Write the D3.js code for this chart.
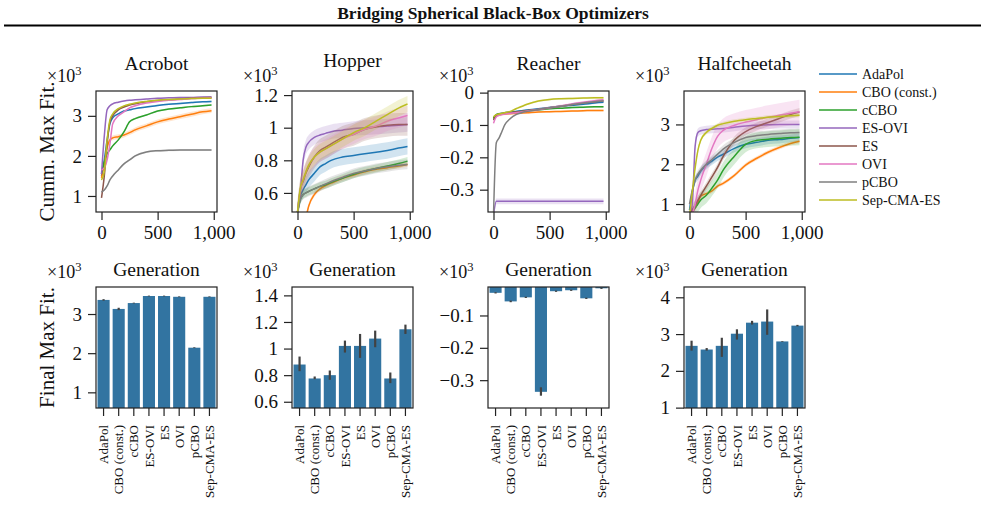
<!DOCTYPE html>
<html>
<head>
<meta charset="utf-8">
<script src="https://cdn.jsdelivr.net/npm/d3@7"></script>
<style>
  body { margin: 0; background: #fff; }
  text { font-family: "Liberation Serif", "DejaVu Serif", serif; fill: #111; }
</style>
</head>
<body>
<svg id="fig" width="985" height="524"></svg>
<script>
// ---- data -------------------------------------------------------------
const figTitle = "Bridging Spherical Black-Box Optimizers";
const envNames = ["Acrobot", "Hopper", "Reacher", "Halfcheetah"];
const methods = ["AdaPol", "CBO (const.)", "cCBO", "ES-OVI", "ES", "OVI", "pCBO", "Sep-CMA-ES"];
const colors = ["#1f77b4", "#ff7f0e", "#2ca02c", "#9467bd", "#8c564b", "#e377c2", "#7f7f7f", "#bcbd22"];
const gens = [0, 25, 50, 75, 100, 150, 200, 250, 300, 400, 500, 600, 700, 800, 900, 980];
const genTicks = [0, 500, 1000];

// cumulative max fitness (x10^3), one row per method
const acrobotMean = {
  "AdaPol":       [1.5, 1.9, 2.4, 2.8, 2.95, 3.05, 3.12, 3.15, 3.18, 3.22, 3.26, 3.29, 3.31, 3.33, 3.35, 3.36],
  "CBO (const.)": [1.45, 1.8, 2.2, 2.4, 2.45, 2.48, 2.52, 2.58, 2.65, 2.75, 2.85, 2.92, 2.98, 3.04, 3.1, 3.13],
  "cCBO":         [1.55, 1.85, 2.05, 2.15, 2.25, 2.4, 2.6, 2.85, 2.93, 3.02, 3.12, 3.17, 3.2, 3.23, 3.25, 3.27],
  "ES-OVI":       [1.55, 2.5, 3.15, 3.25, 3.3, 3.34, 3.37, 3.39, 3.4, 3.42, 3.44, 3.45, 3.46, 3.46, 3.47, 3.47],
  "ES":           [0.95, 1.5, 2.3, 2.85, 3.0, 3.15, 3.22, 3.27, 3.3, 3.35, 3.38, 3.4, 3.42, 3.44, 3.45, 3.46],
  "OVI":          [1.65, 1.7, 1.9, 2.3, 2.8, 3.0, 3.1, 3.2, 3.25, 3.32, 3.36, 3.39, 3.41, 3.43, 3.44, 3.45],
  "pCBO":         [1.1, 1.15, 1.25, 1.4, 1.5, 1.65, 1.8, 1.9, 2.0, 2.1, 2.13, 2.14, 2.15, 2.15, 2.15, 2.15],
  "Sep-CMA-ES":   [1.4, 1.6, 2.4, 2.9, 3.05, 3.18, 3.25, 3.29, 3.32, 3.36, 3.39, 3.41, 3.42, 3.43, 3.44, 3.44]
};
const hopperMean = {
  "AdaPol":       [0.48, 0.58, 0.62, 0.65, 0.68, 0.72, 0.76, 0.78, 0.8, 0.82, 0.83, 0.84, 0.85, 0.86, 0.875, 0.885],
  "CBO (const.)": [0.3, 0.35, 0.4, 0.45, 0.52, 0.59, 0.625, 0.645, 0.66, 0.69, 0.71, 0.73, 0.745, 0.755, 0.765, 0.775],
  "cCBO":         [0.48, 0.56, 0.59, 0.6, 0.61, 0.625, 0.64, 0.65, 0.665, 0.69, 0.715, 0.735, 0.75, 0.765, 0.78, 0.795],
  "ES-OVI":       [0.48, 0.6, 0.8, 0.88, 0.91, 0.94, 0.955, 0.965, 0.975, 0.985, 0.995, 1.0, 1.005, 1.01, 1.015, 1.02],
  "ES":           [0.48, 0.62, 0.67, 0.72, 0.76, 0.82, 0.86, 0.88, 0.9, 0.94, 0.96, 0.99, 1.005, 1.015, 1.02, 1.02],
  "OVI":          [0.48, 0.62, 0.68, 0.73, 0.77, 0.82, 0.85, 0.87, 0.89, 0.93, 0.96, 0.99, 1.01, 1.04, 1.06, 1.075],
  "pCBO":         [0.48, 0.56, 0.59, 0.6, 0.61, 0.625, 0.64, 0.655, 0.67, 0.695, 0.72, 0.735, 0.75, 0.76, 0.77, 0.775],
  "Sep-CMA-ES":   [0.48, 0.63, 0.68, 0.73, 0.77, 0.82, 0.85, 0.87, 0.89, 0.93, 0.97, 1.0, 1.04, 1.08, 1.12, 1.145]
};
const reacherMean = {
  "AdaPol":       [-0.078, -0.068, -0.065, -0.064, -0.062, -0.06, -0.058, -0.056, -0.054, -0.05, -0.046, -0.042, -0.039, -0.036, -0.032, -0.03],
  "CBO (const.)": [-0.08, -0.07, -0.068, -0.067, -0.066, -0.065, -0.064, -0.063, -0.062, -0.06, -0.059, -0.058, -0.057, -0.056, -0.055, -0.055],
  "cCBO":         [-0.08, -0.069, -0.066, -0.065, -0.064, -0.062, -0.06, -0.058, -0.056, -0.053, -0.05, -0.048, -0.046, -0.045, -0.044, -0.044],
  "ES-OVI":       [-0.38, -0.336, -0.336, -0.336, -0.336, -0.336, -0.336, -0.336, -0.336, -0.336, -0.336, -0.336, -0.336, -0.336, -0.336, -0.336],
  "ES":           [-0.085, -0.072, -0.068, -0.066, -0.064, -0.062, -0.06, -0.058, -0.056, -0.052, -0.047, -0.042, -0.037, -0.032, -0.028, -0.025],
  "OVI":          [-0.095, -0.075, -0.07, -0.068, -0.066, -0.064, -0.062, -0.06, -0.057, -0.052, -0.047, -0.041, -0.035, -0.03, -0.025, -0.022],
  "pCBO":         [-0.38, -0.155, -0.14, -0.12, -0.1, -0.08, -0.068, -0.062, -0.058, -0.052, -0.047, -0.042, -0.037, -0.032, -0.028, -0.026],
  "Sep-CMA-ES":   [-0.075, -0.068, -0.066, -0.064, -0.062, -0.058, -0.05, -0.043, -0.036, -0.026, -0.021, -0.019, -0.018, -0.017, -0.016, -0.016]
};
const halfcheetahMean = {
  "AdaPol":       [0.85, 1.3, 1.6, 1.7, 1.82, 1.97, 2.08, 2.18, 2.25, 2.4, 2.5, 2.55, 2.6, 2.62, 2.65, 2.67],
  "CBO (const.)": [0.7, 0.8, 0.9, 1.05, 1.2, 1.26, 1.33, 1.45, 1.52, 1.72, 1.98, 2.15, 2.3, 2.42, 2.52, 2.58],
  "cCBO":         [0.7, 0.8, 0.9, 1.0, 1.1, 1.22, 1.4, 1.6, 1.85, 2.2, 2.5, 2.6, 2.63, 2.65, 2.67, 2.68],
  "ES-OVI":       [0.7, 1.0, 2.45, 2.8, 2.84, 2.87, 2.88, 2.89, 2.9, 2.93, 2.96, 2.98, 2.99, 3.0, 3.0, 3.0],
  "ES":           [0.7, 0.85, 0.97, 1.1, 1.22, 1.45, 1.68, 1.92, 2.2, 2.6, 2.82, 2.95, 3.05, 3.15, 3.25, 3.31],
  "OVI":          [0.6, 0.75, 1.0, 1.35, 1.6, 2.0, 2.4, 2.7, 2.85, 2.98, 3.06, 3.12, 3.18, 3.23, 3.28, 3.32],
  "pCBO":         [1.0, 1.35, 1.6, 1.75, 1.85, 2.0, 2.12, 2.25, 2.38, 2.55, 2.67, 2.72, 2.75, 2.77, 2.79, 2.8],
  "Sep-CMA-ES":   [0.7, 1.3, 1.9, 2.35, 2.6, 2.8, 2.9, 2.98, 3.02, 3.08, 3.12, 3.15, 3.18, 3.2, 3.22, 3.23]
};

// half-width of the shaded band (x10^3)
const acrobotBand = [0.02, 0.06, 0.02, 0.015, 0.02, 0.02, 0.025, 0.015];
const hopperBand = [0.05, 0.015, 0.025, 0.045, 0.07, 0.06, 0.03, 0.05];
const reacherBand = [0.003, 0.003, 0.003, 0.009, 0.003, 0.004, 0.003, 0.003];
const halfcheetahBand = [0.1, 0.05, 0.2, 0.1, 0.1, 0.3, 0.1, 0.05];

// final max fitness (x10^3) and error-bar ranges
const acrobotFinal = [3.36, 3.13, 3.28, 3.46, 3.46, 3.44, 2.14, 3.44];
const acrobotErr = [[3.34, 3.38], [3.1, 3.16], [3.27, 3.29], [3.45, 3.47], [3.45, 3.47], [3.43, 3.45], [2.13, 2.15], [3.43, 3.45]];
const hopperFinal = [0.88, 0.775, 0.8, 1.02, 1.02, 1.075, 0.775, 1.145];
const hopperErr = [[0.83, 0.94], [0.77, 0.79], [0.765, 0.835], [0.97, 1.06], [0.93, 1.11], [1.01, 1.135], [0.74, 0.82], [1.11, 1.18]];
const reacherFinal = [-0.03, -0.0565, -0.044, -0.336, -0.025, -0.022, -0.047, -0.016];
const reacherErr = [[-0.032, -0.028], [-0.059, -0.054], [-0.046, -0.042], [-0.348, -0.322], [-0.027, -0.023], [-0.024, -0.02], [-0.049, -0.045], [-0.018, -0.014]];
const halfcheetahFinal = [2.68, 2.58, 2.68, 3.01, 3.31, 3.34, 2.8, 3.23];
const halfcheetahErr = [[2.55, 2.82], [2.55, 2.62], [2.38, 2.9], [2.85, 3.13], [3.26, 3.36], [2.98, 3.67], [2.79, 2.81], [3.21, 3.25]];

// tick values
const lineTicks = [[1, 2, 3], [0.6, 0.8, 1, 1.2], [0, -0.1, -0.2, -0.3], [1, 2, 3]];
const barTicks = [[1, 2, 3], [0.6, 0.8, 1, 1.2, 1.4], [-0.1, -0.2, -0.3], [1, 2, 3, 4]];

// ---- layout -----------------------------------------------------------
const lefts = [96, 292, 488, 684];
const W = 121;
const lineTop = 91, lineBot = 212, barTop = 287, barBot = 408;
const genDomain = [-49, 1029];
const lineDomains = [[0.6, 3.62], [0.483, 1.225], [-0.369, 0.005], [0.8, 3.84]];
const barDomains = [[0.6, 3.69], [0.553, 1.463], [-0.386, -0.012], [0.99, 4.28]];
const titleY = [70, 67, 70, 70];

const means = [acrobotMean, hopperMean, reacherMean, halfcheetahMean];
const bands = [acrobotBand, hopperBand, reacherBand, halfcheetahBand];
const finals = [acrobotFinal, hopperFinal, reacherFinal, halfcheetahFinal];
const errs = [acrobotErr, hopperErr, reacherErr, halfcheetahErr];

const ink = "#222";
const barColor = "#3274a1";
const numFmt = v => String(Math.round(v * 10) / 10).replace("-", "\u2212");

const svg = d3.select("#fig");

svg.append("text")
  .attr("x", 493).attr("y", 19)
  .attr("text-anchor", "middle")
  .attr("font-weight", "bold").attr("font-size", 17.5)
  .text(figTitle);
svg.append("line")
  .attr("x1", 4).attr("x2", 981).attr("y1", 25.5).attr("y2", 25.5)
  .attr("stroke", "#000").attr("stroke-width", 2);

function offsetLabel(L, top) {
  let t = svg.append("text").attr("x", L - 49).attr("y", top - 9).attr("font-size", 18);
  t.append("tspan").text("\u00d710");
  t.append("tspan").attr("dy", -7).attr("font-size", 12.5).text("3");
}

function styleAxis(g, fs) {
  g.select(".domain").remove();
  g.selectAll(".tick line").attr("stroke", ink).attr("stroke-width", 1.2);
  g.selectAll(".tick text").attr("fill", "#111").attr("font-size", fs)
    .attr("font-family", "Liberation Serif, DejaVu Serif, serif");
}

function frame(L, top, bot) {
  svg.append("rect")
    .attr("x", L).attr("y", top).attr("width", W).attr("height", bot - top)
    .attr("fill", "none").attr("stroke", ink).attr("stroke-width", 1.2);
}

function drawLines(k) {
  const L = lefts[k];
  const x = d3.scaleLinear().domain(genDomain).range([L, L + W]);
  const y = d3.scaleLinear().domain(lineDomains[k]).range([lineBot, lineTop]);

  svg.append("clipPath").attr("id", "lc" + k)
    .append("rect").attr("x", L).attr("y", lineTop).attr("width", W).attr("height", lineBot - lineTop);
  const plot = svg.append("g").attr("clip-path", "url(#lc" + k + ")");

  methods.forEach((m, i) => {
    const mean = means[k][m];
    const hw = bands[k][i];
    const area = d3.area()
      .x((d, j) => x(gens[j]))
      .y0(d => y(d - hw))
      .y1(d => y(d + hw))
      .curve(d3.curveMonotoneX);
    const line = d3.line()
      .x((d, j) => x(gens[j]))
      .y(d => y(d))
      .curve(d3.curveMonotoneX);
    plot.append("path").attr("d", area(mean))
      .attr("fill", colors[i]).attr("opacity", 0.2);
    plot.append("path").attr("d", line(mean))
      .attr("fill", "none").attr("stroke", colors[i]).attr("stroke-width", 1.5);
  });

  const ya = svg.append("g").attr("transform", `translate(${L},0)`)
    .call(d3.axisLeft(y).tickValues(lineTicks[k]).tickSize(8).tickPadding(6).tickFormat(numFmt));
  styleAxis(ya, 19);
  const xa = svg.append("g").attr("transform", `translate(0,${lineBot})`)
    .call(d3.axisBottom(x).tickValues(genTicks).tickSize(8).tickPadding(6).tickFormat(d3.format(",")));
  styleAxis(xa, 19);
  frame(L, lineTop, lineBot);

  svg.append("text").attr("x", L + W / 2).attr("y", titleY[k])
    .attr("text-anchor", "middle").attr("font-size", 19.5).text(envNames[k]);
  svg.append("text").attr("x", L + W / 2).attr("y", 276)
    .attr("text-anchor", "middle").attr("font-size", 19.5).text("Generation");
  offsetLabel(L, lineTop);
}

function drawBars(k) {
  const L = lefts[k];
  const xb = d3.scaleBand().domain(methods).range([L, L + W]).paddingInner(0.2).paddingOuter(0.1);
  const y = d3.scaleLinear().domain(barDomains[k]).range([barBot, barTop]);

  svg.append("clipPath").attr("id", "bc" + k)
    .append("rect").attr("x", L).attr("y", barTop).attr("width", W).attr("height", barBot - barTop);
  const plot = svg.append("g").attr("clip-path", "url(#bc" + k + ")");

  plot.selectAll("rect.bar").data(finals[k]).enter().append("rect")
    .attr("class", "bar")
    .attr("x", (d, i) => xb(methods[i]))
    .attr("width", xb.bandwidth())
    .attr("y", d => Math.min(y(0), y(d)))
    .attr("height", d => Math.abs(y(0) - y(d)))
    .attr("fill", barColor);

  plot.selectAll("line.err").data(errs[k]).enter().append("line")
    .attr("class", "err")
    .attr("x1", (d, i) => xb(methods[i]) + xb.bandwidth() / 2)
    .attr("x2", (d, i) => xb(methods[i]) + xb.bandwidth() / 2)
    .attr("y1", d => y(d[0])).attr("y2", d => y(d[1]))
    .attr("stroke", "#424242").attr("stroke-width", 2.2);

  const ya = svg.append("g").attr("transform", `translate(${L},0)`)
    .call(d3.axisLeft(y).tickValues(barTicks[k]).tickSize(8).tickPadding(6).tickFormat(numFmt));
  styleAxis(ya, 19);
  const xa = svg.append("g").attr("transform", `translate(0,${barBot})`)
    .call(d3.axisBottom(xb).tickSize(8).tickPadding(6));
  styleAxis(xa, 13);
  xa.selectAll(".tick text")
    .attr("transform", "rotate(-90)")
    .attr("text-anchor", "end")
    .attr("x", -17).attr("y", 0).attr("dy", "0.35em");
  frame(L, barTop, barBot);
  offsetLabel(L, barTop);
}

envNames.forEach((e, k) => { drawLines(k); drawBars(k); });

svg.append("text").attr("transform", "translate(54,151.5) rotate(-90)")
  .attr("text-anchor", "middle").attr("font-size", 21).text("Cumm. Max Fit.");
svg.append("text").attr("transform", "translate(54,347.5) rotate(-90)")
  .attr("text-anchor", "middle").attr("font-size", 21).text("Final Max Fit.");

// legend
const leg = svg.append("g").attr("transform", "translate(819,74)");
methods.forEach((m, i) => {
  leg.append("line").attr("x1", 0).attr("x2", 38).attr("y1", i * 18).attr("y2", i * 18)
    .attr("stroke", colors[i]).attr("stroke-width", 1.5);
  leg.append("text").attr("x", 43).attr("y", i * 18).attr("dy", "0.33em")
    .attr("font-size", 14).text(m);
});
</script>
</body>
</html>
